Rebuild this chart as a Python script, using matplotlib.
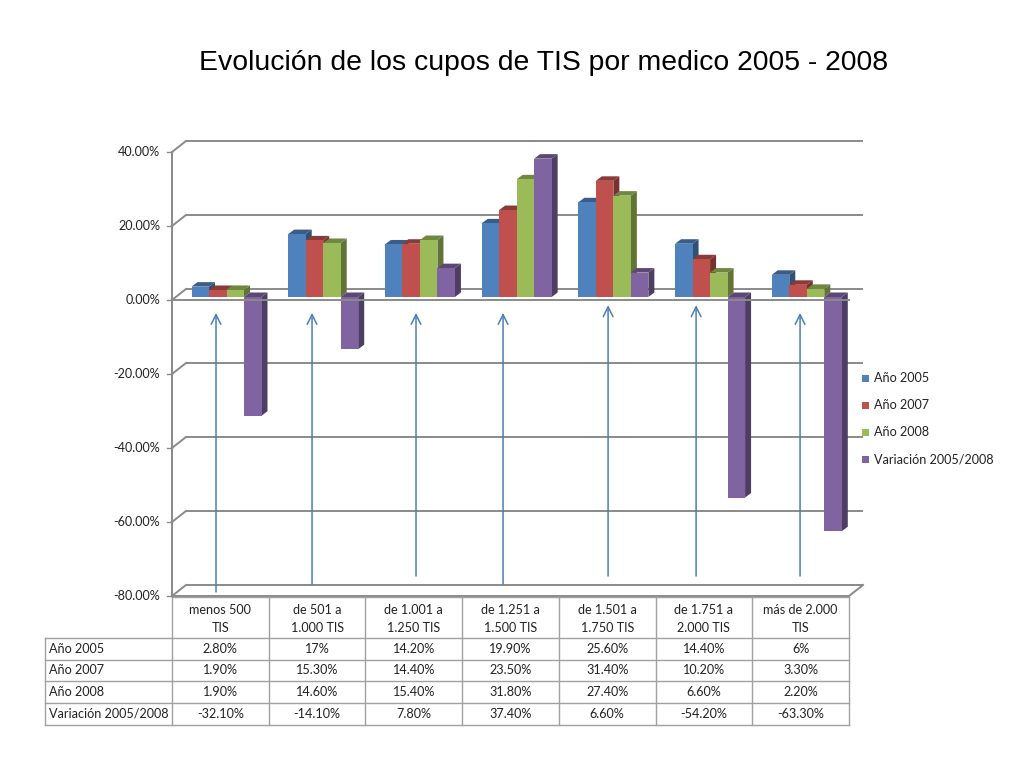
import matplotlib
matplotlib.use('Agg')
import matplotlib.pyplot as plt
from matplotlib.patches import Polygon, Rectangle
import numpy as np

# ---------------- data ----------------
categories = ["menos 500\nTIS", "de 501 a\n1.000 TIS", "de 1.001 a\n1.250 TIS",
              "de 1.251 a\n1.500 TIS", "de 1.501 a\n1.750 TIS", "de 1.751 a\n2.000 TIS",
              "más de 2.000\nTIS"]
series_names = ["Año 2005", "Año 2007", "Año 2008", "Variación 2005/2008"]
anio_2005 = [2.8, 17.0, 14.2, 19.9, 25.6, 14.4, 6.0]
anio_2007 = [1.9, 15.3, 14.4, 23.5, 31.4, 10.2, 3.3]
anio_2008 = [1.9, 14.6, 15.4, 31.8, 27.4, 6.6, 2.2]
variacion = [-32.1, -14.1, 7.8, 37.4, 6.6, -54.2, -63.3]
table_2005 = ["2.80%", "17%", "14.20%", "19.90%", "25.60%", "14.40%", "6%"]
table_2007 = ["1.90%", "15.30%", "14.40%", "23.50%", "31.40%", "10.20%", "3.30%"]
table_2008 = ["1.90%", "14.60%", "15.40%", "31.80%", "27.40%", "6.60%", "2.20%"]
table_var = ["-32.10%", "-14.10%", "7.80%", "37.40%", "6.60%", "-54.20%", "-63.30%"]
y_ticks = [-80, -60, -40, -20, 0, 20, 40]
# hand-drawn arrows (category units / percent)
arrow_x = [0.455, 1.448, 2.523, 3.423, 4.509, 5.419, 6.494]
arrow_bottom = [-78.9, -76.8, -74.6, -76.8, -74.6, -74.6, -74.6]
arrow_top = [-3.5, -3.5, -3.5, -3.5, -1.4, -1.4, -3.5]

title = "Evolución de los cupos de TIS por medico 2005 - 2008"

series = [anio_2005, anio_2007, anio_2008, variacion]
colors = ["#4F81BD", "#C0504D", "#9BBB59", "#8064A2"]

FONT = ["Lato", "DejaVu Sans"]
plt.rcParams['font.family'] = FONT
FS = 9.1

W, H = 1024, 768
fig = plt.figure(figsize=(W / 100, H / 100), dpi=100)
fig.patch.set_facecolor("white")

# front plane of the plot
X0, X1, YT, YB = 172, 849, 152, 596
ax = fig.add_axes([X0 / W, (H - YB) / H, (X1 - X0) / W, (YB - YT) / H])
ax.set_xlim(0, len(categories))
ax.set_ylim(-80, 40)
ax.axis('off')

ncat = len(categories)
def DX(px):
    return px * ncat / (X1 - X0)
def DY(px):
    return px * 120.0 / (YB - YT)

grid_c = "#8a8a8a"
glw = 1.4
bx, by = DX(14), DY(11)

# back wall gridlines + left diagonals
for v in y_ticks:
    ax.plot([bx, ncat + bx], [v + by, v + by], color=grid_c, lw=glw, zorder=1, clip_on=False,
            solid_capstyle='butt')
    ax.plot([0, bx], [v, v + by], color=grid_c, lw=glw, zorder=1, clip_on=False)
    ax.plot([-DX(5), 0], [v, v], color=grid_c, lw=1.0, zorder=1, clip_on=False)
    ax.text(-DX(12), v, f"{v:.2f}%", ha='right', va='center', fontsize=FS, color="#222222")

# floor front edge + right diagonal, left axis
ax.plot([0, ncat], [-80, -80], color=grid_c, lw=glw, zorder=1, clip_on=False)
ax.plot([ncat, ncat + bx], [-80, -80 + by], color=grid_c, lw=glw, zorder=1, clip_on=False)
ax.plot([0, 0], [-80, 40], color=grid_c, lw=glw, zorder=1, clip_on=False)

# front zero line (over bars)
ax.plot([0, ncat], [0, 0], color=grid_c, lw=glw, zorder=20, clip_on=False)

# ---------------- 3D-like bars ----------------
def shade(c, f):
    c = matplotlib.colors.to_rgb(c)
    return tuple(min(1, x * f) for x in c)

bw = DX(17.5)
start = DX(19.5)
oy = DY(3)
ddx, ddy = DX(6), DY(4.5)
for i in range(ncat):
    for k, (vals, col) in enumerate(zip(series, colors)):
        v = vals[i]
        z = 3 + 0.01 * (i * 4 + k)
        xl = i + start + k * bw
        xr = xl + bw
        ax.bar(xl, v, width=bw, bottom=oy, align='edge', color=col, edgecolor='none',
               zorder=z + 0.005, clip_on=False)
        side = Polygon([(xr, oy), (xr, oy + v), (xr + ddx, oy + v + ddy), (xr + ddx, oy + ddy)],
                       closed=True, facecolor=shade(col, 0.62), edgecolor='none', zorder=z,
                       clip_on=False)
        ax.add_patch(side)
        top_lvl = oy + max(v, 0)
        top = Polygon([(xl, top_lvl), (xr, top_lvl), (xr + ddx, top_lvl + ddy), (xl + ddx, top_lvl + ddy)],
                      closed=True, facecolor=shade(col, 0.72), edgecolor='none', zorder=z,
                      clip_on=False)
        ax.add_patch(top)

# ---------------- arrows ----------------
for xa, yb0, yt0 in zip(arrow_x, arrow_bottom, arrow_top):
    ax.annotate('', xy=(xa, yt0), xytext=(xa, yb0),
                arrowprops=dict(arrowstyle='->,head_length=0.7,head_width=0.35',
                                color='#4A7EBB', lw=1.1, shrinkA=0, shrinkB=0),
                zorder=25, annotation_clip=False)

# ---------------- title ----------------
fig.text(544 / W, 1 - 63 / H, title, ha='center', va='center', fontsize=20.4,
         family=["Liberation Sans", "DejaVu Sans"], color="black")

# ---------------- legend ----------------
leg_y = [378, 405, 432, 459]
for name, col, yy in zip(series_names, colors, leg_y):
    fig.patches.append(Rectangle((862 / W, 1 - (yy + 3.5) / H), 7 / W, 7 / H,
                                 transform=fig.transFigure, facecolor=col, edgecolor='none'))
    fig.text(874 / W, 1 - yy / H, name, ha='left', va='center', fontsize=FS, color="#222222")

# ---------------- data table ----------------
tab_c = "#a0a0a0"
TL = 45
row_edges = [597, 638, 660, 681, 703, 725]
col_edges = [X0 + j * (X1 - X0) / ncat for j in range(ncat + 1)]
row_labels = series_names
row_values = [table_2005, table_2007, table_2008, table_var]

def hline(y, x0, x1):
    fig.add_artist(plt.Line2D([x0 / W, x1 / W], [1 - y / H, 1 - y / H], color=tab_c, lw=1.0))
def vline(x, y0, y1):
    fig.add_artist(plt.Line2D([x / W, x / W], [1 - y0 / H, 1 - y1 / H], color=tab_c, lw=1.0))

hline(row_edges[0], X0, X1)
for y in row_edges[1:]:
    hline(y, TL, X1)
vline(TL, row_edges[1], row_edges[-1])
for x in col_edges:
    vline(x, row_edges[0], row_edges[-1])

for j, cat in enumerate(categories):
    cx = (col_edges[j] + col_edges[j + 1]) / 2
    cy = (row_edges[0] + row_edges[1]) / 2 + 1
    fig.text(cx / W, 1 - cy / H, cat, ha='center', va='center', fontsize=FS,
             linespacing=1.6, color="#222222")

for r, (lab, vals) in enumerate(zip(row_labels, row_values)):
    cy = (row_edges[r + 1] + row_edges[r + 2]) / 2
    fig.text((TL + 4) / W, 1 - cy / H, lab, ha='left', va='center', fontsize=FS, color="#222222")
    for j, t in enumerate(vals):
        cx = (col_edges[j] + col_edges[j + 1]) / 2
        fig.text(cx / W, 1 - cy / H, t, ha='center', va='center', fontsize=FS, color="#222222")

fig.savefig("out.png", dpi=100, facecolor="white")
